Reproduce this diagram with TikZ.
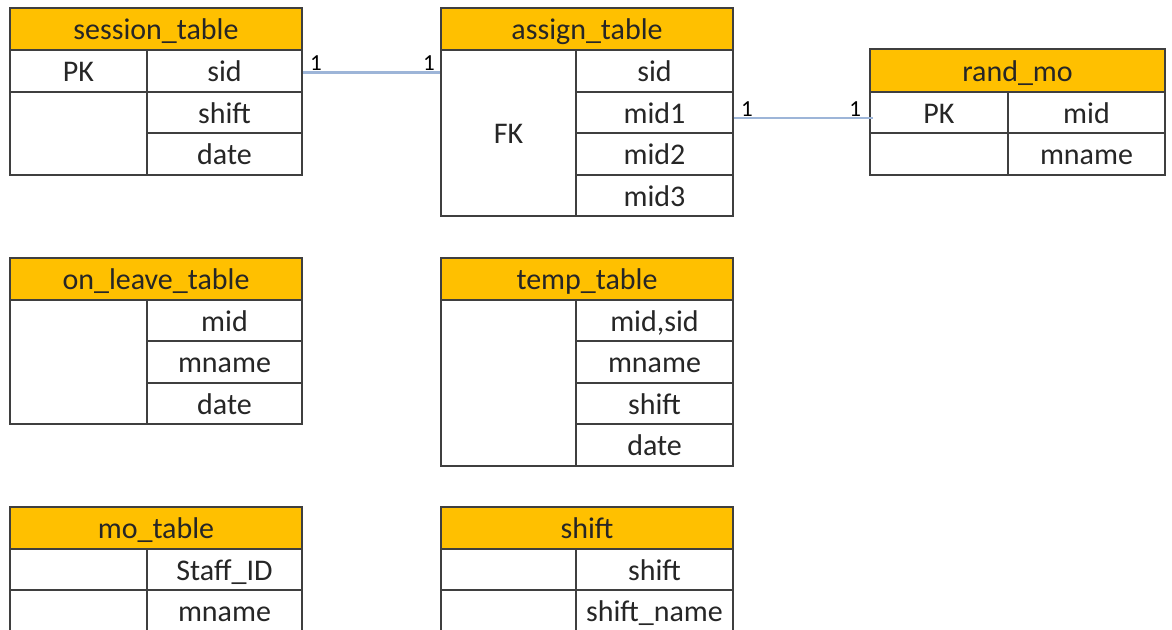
\documentclass[tikz,border=0pt]{standalone}
\usepackage{fontspec}
\setmainfont{Carlito}
\definecolor{gold}{HTML}{FFC000}
\definecolor{edge}{HTML}{3F3F3F}
\definecolor{conncol}{HTML}{9DB5D8}
\definecolor{txt}{HTML}{262626}
\tikzset{
  cellbox/.style={draw=edge, line width=1.8pt, inner sep=0pt, text=txt,
    text height=26pt, text depth=5pt,
    font=\fontsize{30}{32}\selectfont},
  hdrbox/.style={cellbox, fill=gold},
  conn/.style={draw=conncol, line width=2.4pt},
  lbl/.style={inner sep=0pt, text=black, font=\fontsize{23}{25}\selectfont},
}
% options, name, x1, y1, x2, y2, text
\newcommand\namedcell[7][]{%
  \node[cellbox,#1,minimum width={(#5-#3)*1pt},minimum height={(#6-#4)*1pt}]
    (#2) at ({(#3+#5)/2},{(#4+#6)/2}) {#7};}
\begin{document}
\begin{tikzpicture}[x=1pt,y=-1pt]
\path[use as bounding box, clip] (0,0) rectangle (1172,629);
\fill[white] (0,0) rectangle (1172,629);

% session_table
\namedcell[hdrbox]{s-h}{10}{8}{302}{50}{session\_table}
\namedcell{s-pk}{10}{50}{147}{92}{PK}
\namedcell{s-sid}{147}{50}{302}{92}{sid}
\namedcell{s-l}{10}{92}{147}{175}{}
\namedcell{s-shift}{147}{92}{302}{133}{shift}
\namedcell{s-date}{147}{133}{302}{175}{date}

% assign_table
\namedcell[hdrbox]{a-h}{441}{8}{733}{50}{assign\_table}
\namedcell{a-fk}{441}{50}{576}{216}{FK}
\namedcell{a-sid}{576}{50}{733}{92}{sid}
\namedcell{a-mid1}{576}{92}{733}{133}{mid1}
\namedcell{a-mid2}{576}{133}{733}{175}{mid2}
\namedcell{a-mid3}{576}{175}{733}{216}{mid3}

% rand_mo
\namedcell[hdrbox]{r-h}{870}{49}{1165}{92}{rand\_mo}
\namedcell{r-pk}{870}{92}{1008}{133}{PK}
\namedcell{r-mid}{1008}{92}{1165}{133}{mid}
\namedcell{r-l}{870}{133}{1008}{175}{}
\namedcell{r-mname}{1008}{133}{1165}{175}{mname}

% on_leave_table
\namedcell[hdrbox]{o-h}{10}{258}{302}{300}{on\_leave\_table}
\namedcell{o-l}{10}{300}{147}{424}{}
\namedcell{o-mid}{147}{300}{302}{341}{mid}
\namedcell{o-mname}{147}{341}{302}{383}{mname}
\namedcell{o-date}{147}{383}{302}{424}{date}

% temp_table
\namedcell[hdrbox]{t-h}{441}{258}{733}{300}{temp\_table}
\namedcell{t-l}{441}{300}{576}{466}{}
\namedcell{t-midsid}{576}{300}{733}{341}{mid,sid}
\namedcell{t-mname}{576}{341}{733}{383}{mname}
\namedcell{t-shift}{576}{383}{733}{424}{shift}
\namedcell{t-date}{576}{424}{733}{466}{date}

% mo_table
\namedcell[hdrbox]{m-h}{10}{507}{302}{549}{mo\_table}
\namedcell{m-l1}{10}{549}{147}{590}{}
\namedcell{m-staff}{147}{549}{302}{590}{Staff\_ID}
\namedcell{m-l2}{10}{590}{147}{632}{}
\namedcell{m-mname}{147}{590}{302}{632}{mname}

% shift
\namedcell[hdrbox]{h-h}{441}{507}{733}{549}{shift}
\namedcell{h-l1}{441}{549}{576}{590}{}
\namedcell{h-shift}{576}{549}{733}{590}{shift}
\namedcell{h-l2}{441}{590}{576}{632}{}
\namedcell{h-name}{576}{590}{733}{632}{shift\_name}

% connectors
\draw[conn] ([yshift=-1.5pt]s-sid.east) -- ([yshift=-1.5pt]s-sid.east -| a-fk.west);
\node[lbl, anchor=base west] (c1a) at ([xshift=7pt,yshift=0.5pt]s-sid.east) {1};
\node[lbl, anchor=base east] (c1b) at ([xshift=-5pt,yshift=0.5pt]s-sid.east -| a-fk.west) {1};

\draw[conn] ([yshift=-5.5pt]a-mid1.east) -- ([yshift=-5.5pt,xshift=4pt]r-pk.west);
\node[lbl, anchor=base west] (c2a) at ([xshift=7pt,yshift=-4pt]a-mid1.east) {1};
\node[lbl, anchor=base east] (c2b) at ([xshift=-8pt,yshift=-4pt]r-pk.west) {1};
\end{tikzpicture}
\end{document}
